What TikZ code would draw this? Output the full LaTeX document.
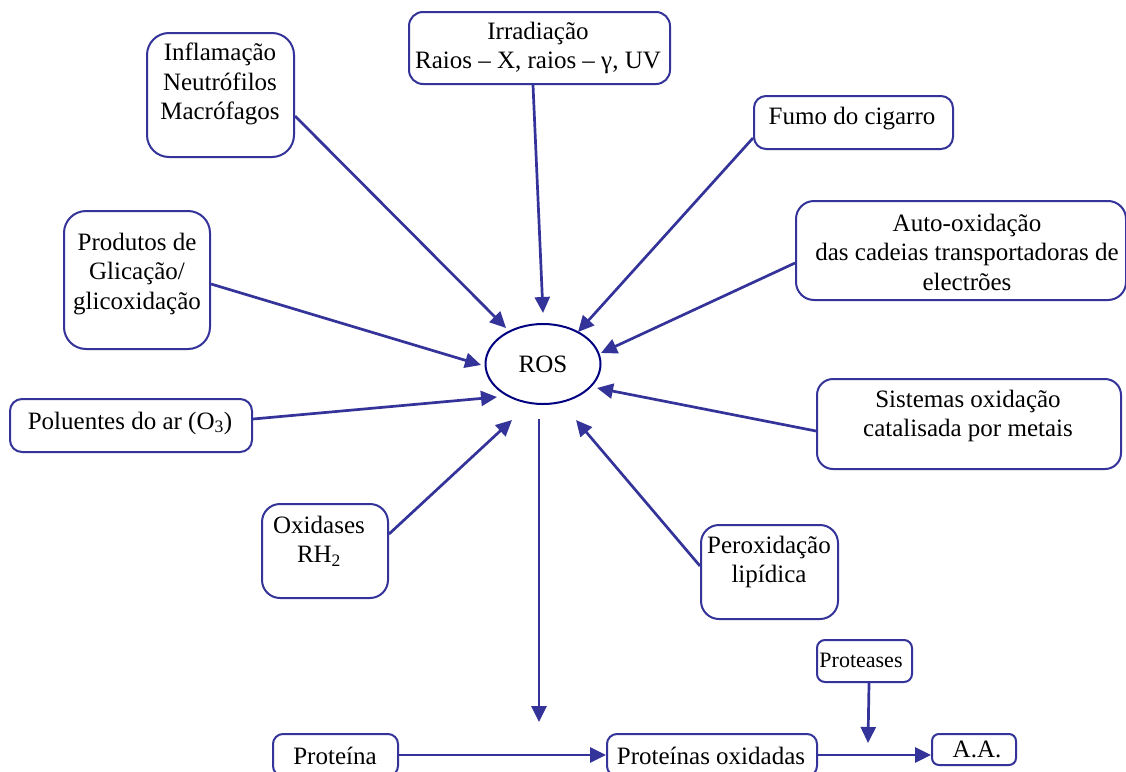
\documentclass[tikz,border=0pt]{standalone}
\usepackage{fontspec}
\setmainfont{Liberation Serif}
\usetikzlibrary{arrows.meta,shapes.geometric}
\definecolor{ln}{RGB}{51,51,153}
\definecolor{nv}{RGB}{0,0,128}
\begin{document}
\begin{tikzpicture}[x=1pt,y=-1pt,
  box/.style={draw=ln, line width=2pt, rounded corners=#1, inner sep=0pt, anchor=north west},
  txt/.style={align=center, inner sep=0pt, font=\fontsize{25}{29.5}\selectfont},
  stxt/.style={align=center, inner sep=0pt, font=\fontsize{22}{26}\selectfont},
  arr/.style={draw=ln, line width=2.7pt, -{Triangle[length=16pt,width=15pt]}}]
\useasboundingbox (0,0) rectangle (1126,771);
% boxes
\node[box=22pt, minimum width=147pt, minimum height=124pt] (infl) at (146,32) {};
\node[box=14pt, minimum width=261pt, minimum height=72pt] (irr) at (408,11) {};
\node[box=12pt, minimum width=199pt, minimum height=53pt] (fumo) at (753,95) {};
\node[box=18pt, minimum width=330pt, minimum height=99pt] (auto) at (795,200) {};
\node[box=22pt, minimum width=146pt, minimum height=138pt] (prod) at (63,210) {};
\node[box=12pt, minimum width=242pt, minimum height=53pt] (polu) at (9,398) {};
\node[box=16pt, minimum width=304pt, minimum height=90pt] (sist) at (816,378) {};
\node[box=18pt, minimum width=126pt, minimum height=94pt] (oxid) at (261,503) {};
\node[box=18pt, minimum width=137pt, minimum height=94pt] (perox) at (700,524) {};
\node[box=8pt, minimum width=95pt, minimum height=42pt] (prot) at (816,639) {};
\node[box=7pt, minimum width=84pt, minimum height=31pt] (aa) at (931,733) {};
\node[box=10pt, minimum width=125pt, minimum height=42pt] (proteina) at (272,733) {};
\node[box=10pt, minimum width=210pt, minimum height=42pt] (protox) at (606,733) {};
\node[draw=nv, line width=2pt, ellipse, minimum width=115pt, minimum height=80pt, inner sep=0pt, font=\fontsize{25}{29.5}\selectfont] (ros) at (543,364) {ROS};
% texts
\node[txt] (inflT) at (220,84) {Inflamação\\Neutrófilos\\Macrófagos};
\node[txt] (irrT) at (538,48) {Irradiação\\Raios – X, raios – γ, UV};
\node[txt] (fumoT) at (852,119) {Fumo do cigarro};
\node[txt] (autoT) at (967,252) {Auto-oxidação\\das cadeias transportadoras de\\electrões};
\node[txt] (prodT) at (137,274) {Produtos de\\Glicação/\\glicoxidação};
\node[txt] (poluT) at (130,423) {Poluentes do ar (O\textsubscript{3})};
\node[txt] (sistT) at (968,416) {Sistemas oxidação\\catalisada por metais};
\node[txt] (oxidT) at (319,541) {Oxidases\\RH\textsubscript{2}};
\node[txt] (peroxT) at (769,562) {Peroxidação\\lipídica};
\node[stxt] (protT) at (861,660) {Proteases};
\node[txt] (aaT) at (977,749) {A.A.};
\node[txt] (proteinaT) at (335,756) {Proteína};
\node[txt] (protoxT) at (711,756) {Proteínas oxidadas};
% arrow tips
\coordinate (t1) at (506,328);
\coordinate (t2) at (543,313);
\coordinate (t3) at (578,332);
\coordinate (t4) at (601,353);
\coordinate (t5) at (481,365);
\coordinate (t6) at (497,397);
\coordinate (t7) at (512,420);
\coordinate (t8) at (576,420);
\coordinate (t9) at (597,388);
\coordinate (t10) at (539,722);
\coordinate (t11) at (868,743);
% connectors
\draw[arr] ([yshift=-21pt]infl.east) -- (t1);
\draw[arr] ([xshift=-6.5pt]irr.south) -- (t2);
\draw[arr] ([yshift=-15.5pt]fumo.west) -- (t3);
\draw[arr] ([yshift=-12.5pt]auto.west) -- (t4);
\draw[arr] ([yshift=-4pt]prod.east) -- (t5);
\draw[arr] ([yshift=6.5pt]polu.east) -- (t6);
\draw[arr] ([yshift=17pt]oxid.east) -- (t7);
\draw[arr] ([yshift=6pt]perox.west) -- (t8);
\draw[arr] ([yshift=-7pt]sist.west) -- (t9);
\draw[arr] ([xshift=-4pt,yshift=-14pt]ros.south) -- (t10);
\draw[arr] (proteina.east) -- (protox.west);
\draw[arr] (protox.east) -- (protox.east -| aa.west);
\draw[arr] ([xshift=4.5pt]prot.south) -- (t11);
\end{tikzpicture}
\end{document}
